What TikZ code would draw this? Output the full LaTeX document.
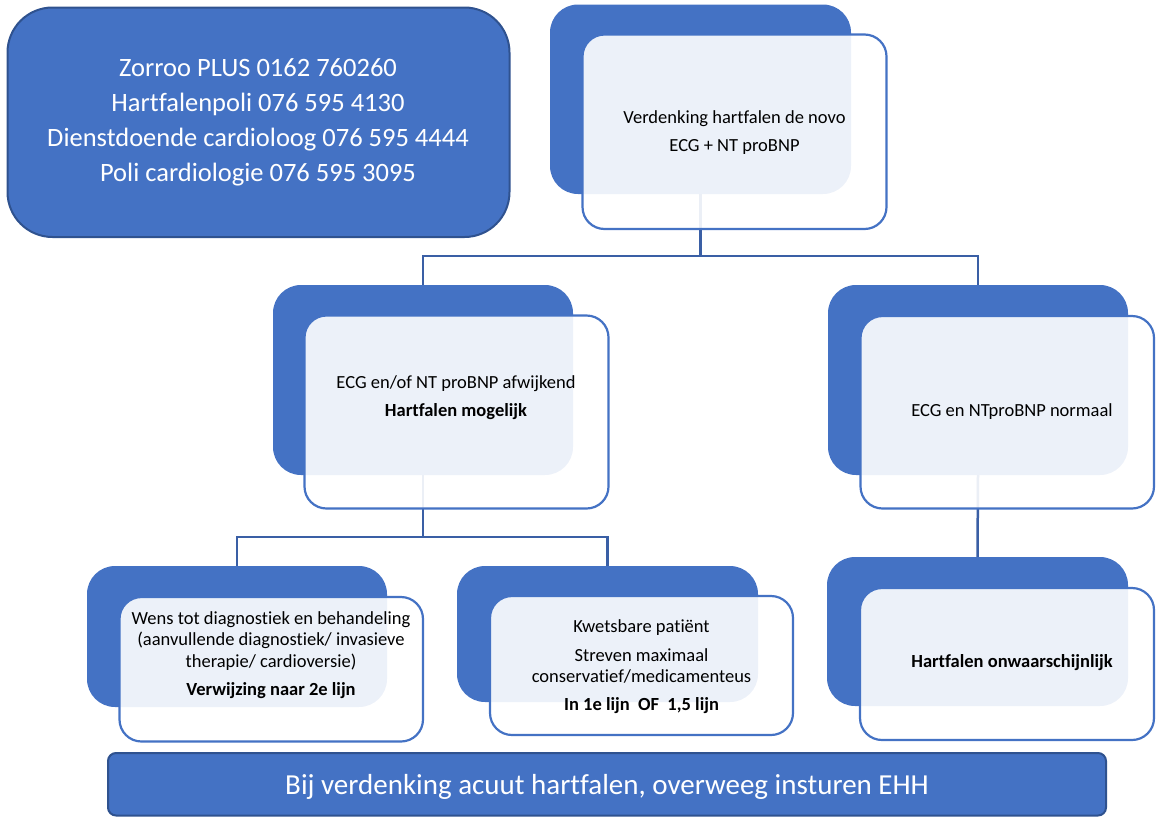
\documentclass[tikz,border=0pt]{standalone}
\usepackage{fontspec}
\setmainfont{Carlito}[RawFeature={-liga;-clig;-dlig;-calt}]
\usetikzlibrary{fit,backgrounds}
\definecolor{mainblue}{HTML}{4472C4}
\definecolor{darkblue}{HTML}{2F528F}
\definecolor{linkblue}{HTML}{3A5FA5}
\begin{document}
\begin{tikzpicture}[x=1pt,y=-1pt,
  backbox/.style={fill=mainblue, draw=none, rounded corners=28pt, inner sep=0pt},
  frontbox/.style={fill=white, fill opacity=0.9, draw=mainblue, draw opacity=1, line width=2.2pt, rounded corners=22pt, inner sep=0pt},
  infobox/.style={fill=mainblue, draw=darkblue, line width=2pt, inner sep=0pt},
  boxtext/.style={align=center, font=\fontsize{18.5}{21.5}\selectfont, text=black, inner sep=0pt},
  whitetext/.style={align=center, text=white, inner sep=0pt},
  link/.style={draw=linkblue, line width=2.5pt}]
\useasboundingbox (0,0) rectangle (1156,817);

% info box
\node[infobox, rounded corners=45pt, fit={(7.5,7.5) (509.5,237)}] (info) {};
\node[whitetext, font=\fontsize{26.5}{35}\selectfont] (infotext) at (258,122.5)
  {Zorroo PLUS 0162 760260\\Hartfalenpoli 076 595 4130\\Dienstdoende cardioloog 076 595 4444\\Poli cardiologie 076 595 3095};

% back boxes
\node[backbox, fit={(550,4.5) (851,194)}] (topB) {};
\node[backbox, fit={(273,285) (573,475)}] (midLB) {};
\node[backbox, fit={(828,285) (1128,475)}] (midRB) {};
\node[backbox, fit={(87,566) (387,707)}] (botLB) {};
\node[backbox, fit={(457,566) (758,702)}] (botMB) {};
\node[backbox, fit={(827,557) (1128,706)}] (botRB) {};

% connectors (behind)
\coordinate (j1) at (700.5,256);
\coordinate (j2) at (423,537);
\begin{pgfonlayer}{background}
\draw[link] (topB.south) -- (j1) -| (midLB.north);
\draw[link] (j1) -| (midRB.north);
\draw[link] (midLB.south) -- (j2) -| (botLB.north);
\draw[link] (j2) -| (botMB.north);
\draw[link] (midRB.south) -- (botRB.north);
\end{pgfonlayer}

% front boxes
\node[frontbox, fit={(582.5,34.5) (886.5,229)}] (topF) {};
\node[frontbox, fit={(304.5,315.5) (608.5,508.5)}] (midLF) {};
\node[frontbox, fit={(860.5,316) (1154,508.5)}] (midRF) {};
\node[frontbox, fit={(119.5,597) (423,741.5)}] (botLF) {};
\node[frontbox, fit={(490,596) (793,735)}] (botMF) {};
\node[frontbox, fit={(860,588) (1154,740)}] (botRF) {};

% texts
\node[boxtext] (topT) at (734.5,132.5)
  {Verdenking hartfalen de novo\\[7pt]ECG + NT proBNP};
\node[boxtext] (midLT) at (456,398)
  {ECG en/of NT proBNP afwijkend\\[6.5pt]\textbf{Hartfalen mogelijk}};
\node[boxtext] (midRT) at (1012,412) {ECG en NTproBNP normaal};
\node[boxtext] (botLT) at (271,655)
  {Wens tot diagnostiek en behandeling\\(aanvullende diagnostiek/ invasieve\\therapie/ cardioversie)\\[6.5pt]\textbf{Verwijzing naar 2e lijn}};
\node[boxtext] (botMT) at (641.5,666.5)
  {Kwetsbare patiënt\\[7.5pt]Streven maximaal\\conservatief/medicamenteus\\[6.5pt]\textbf{In 1e lijn\ \ OF\ \ 1,5 lijn}};
\node[boxtext] (botRT) at (1012,663) {\textbf{Hartfalen onwaarschijnlijk}};

% bottom bar
\node[infobox, rounded corners=8pt, fit={(108,753) (1106,815.5)}] (bar) {};
\node[whitetext, font=\fontsize{29}{35}\selectfont] (bartext) at (607,787)
  {Bij verdenking acuut hartfalen, overweeg insturen EHH};
\end{tikzpicture}
\end{document}
